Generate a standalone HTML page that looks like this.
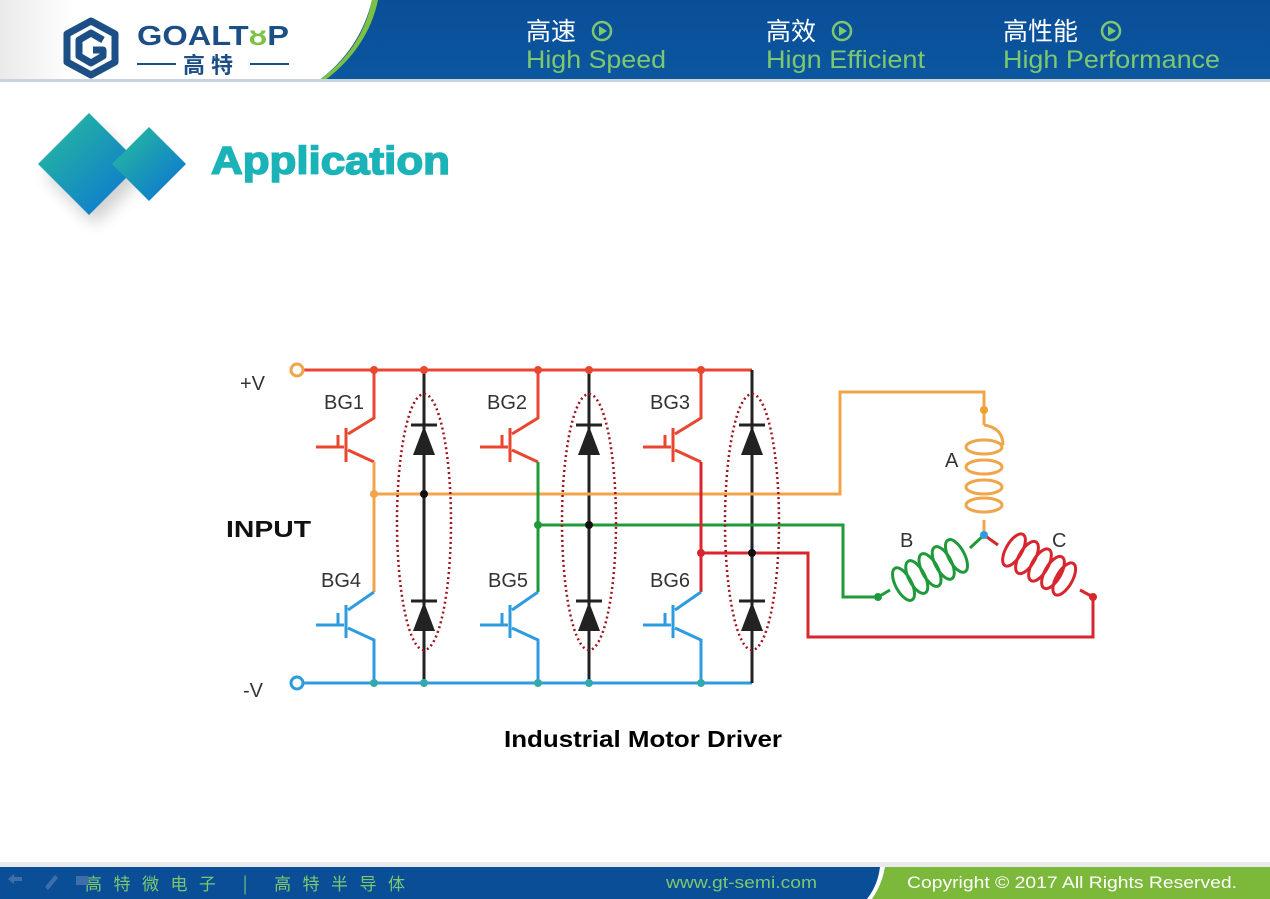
<!DOCTYPE html>
<html><head><meta charset="utf-8"><style>
html,body{margin:0;padding:0;width:1270px;height:899px;overflow:hidden;background:#fff;font-family:"Liberation Sans","Noto Sans CJK SC",sans-serif}
</style></head><body>
<svg width="1270" height="899" viewBox="0 0 1270 899" xmlns="http://www.w3.org/2000/svg" style="position:absolute;left:0;top:0">
<defs>
<linearGradient id="hb" x1="0" y1="0" x2="0" y2="1"><stop offset="0" stop-color="#0a4e98"/><stop offset="1" stop-color="#0b579f"/></linearGradient>
<linearGradient id="dg" x1="0" y1="0" x2="1" y2="1"><stop offset="0" stop-color="#27c09a"/><stop offset="1" stop-color="#0b6fd6"/></linearGradient>
<linearGradient id="lw" x1="0" y1="0" x2="1" y2="0"><stop offset="0" stop-color="#eaeaea"/><stop offset="0.2" stop-color="#fff"/></linearGradient>
<filter id="sh"><feGaussianBlur stdDeviation="8"/></filter>
</defs>
<!-- header -->
<rect x="0" y="0" width="1270" height="81" fill="url(#hb)"/>
<path d="M0 0 H372 Q360 50 318 81 H0 Z" fill="url(#lw)"/>
<path d="M372 0 Q362 50 318 81 L324 81 Q368 48 378 0 Z" fill="#7cc242"/>
<rect x="0" y="79" width="1270" height="3" fill="#c9d3de"/>
<!-- logo -->
<g transform="translate(91,48)" fill="none" stroke="#1c4f86" stroke-width="7" stroke-linejoin="round">
<polygon points="0,-27 24,-14 24,14 0,27 -24,14 -24,-14"/>
<path d="M12,-8 L0,-15 -12,-8 -12,8 0,15 12,8 12,2 2,2"/>
</g>
<text x="137" y="45" font-family="Liberation Sans,sans-serif" font-weight="bold" font-size="28" fill="#1c4f86" textLength="152" lengthAdjust="spacingAndGlyphs">GOALT<tspan fill="#7cc242">ᴕ</tspan>P</text>
<line x1="137" y1="64" x2="176" y2="64" stroke="#1c4f86" stroke-width="2"/>
<line x1="250" y1="64" x2="289" y2="64" stroke="#1c4f86" stroke-width="2"/>
<text x="183" y="73" font-family="Noto Sans CJK SC,sans-serif" font-weight="bold" font-size="22" fill="#1c4f86" letter-spacing="6">高特</text>
<g font-family="Liberation Sans,Noto Sans CJK SC,sans-serif">
<text x="526" y="40" font-size="25" fill="#fff" font-family="Noto Sans CJK SC,sans-serif">高速</text>
<text x="526" y="68" font-size="25" fill="#7dc86e" textLength="140" lengthAdjust="spacingAndGlyphs">High Speed</text>
<text x="766" y="40" font-size="25" fill="#fff" font-family="Noto Sans CJK SC,sans-serif">高效</text>
<text x="766" y="68" font-size="25" fill="#7dc86e" textLength="159" lengthAdjust="spacingAndGlyphs">Hign Efficient</text>
<text x="1003" y="40" font-size="25" fill="#fff" font-family="Noto Sans CJK SC,sans-serif">高性能</text>
<text x="1003" y="68" font-size="25" fill="#7dc86e" textLength="217" lengthAdjust="spacingAndGlyphs">High Performance</text>
</g>
<g fill="none" stroke="#7dc86e" stroke-width="2.5">
<circle cx="602" cy="31" r="9"/><circle cx="842" cy="31" r="9"/><circle cx="1111" cy="31" r="9"/></g>
<g fill="#7dc86e"><path d="M599 26 L607 31 599 36Z"/><path d="M839 26 L847 31 839 36Z"/><path d="M1108 26 L1116 31 1108 36Z"/></g>
<!-- title diamonds -->
<polygon points="95,125 145,175 95,225 45,175" fill="#000" opacity="0.18" filter="url(#sh)"/>
<polygon points="89,113 140,164 89,215 38,164" fill="url(#dg)"/>
<polygon points="149,127 186,164 149,201 112,164" fill="url(#dg)"/>
<text x="211" y="174" font-family="Liberation Sans,sans-serif" font-weight="bold" font-size="39" fill="#1bb3b8" stroke="#1bb3b8" stroke-width="1.5" textLength="239" lengthAdjust="spacingAndGlyphs">Application</text>
<!-- circuit -->
<g stroke-width="3" fill="none">
<line x1="304" y1="370" x2="752" y2="370" stroke="#e8462f"/>
<line x1="304" y1="683" x2="752" y2="683" stroke="#2e9be0"/>
<line x1="424" y1="370" x2="424" y2="683" stroke="#222"/>
<line x1="589" y1="370" x2="589" y2="683" stroke="#222"/>
<line x1="752" y1="370" x2="752" y2="683" stroke="#222"/>
<polyline points="374,494 840,494 840,392 984,392 984,425" stroke="#f0a54a"/>
<polyline points="538,525 843,525 843,597 880,597" stroke="#1f9a3a"/>
<polyline points="701,553 808,553 808,637 1093,637 1093,597" stroke="#d8262e"/>
<polyline points="984,520 984,535" stroke="#f0a54a"/>
</g>
<!-- coils -->
<g fill="none" stroke-width="3">
<g stroke="#f0a54a"><path d="M984 425 Q1003 428 1003 445"/>
<ellipse cx="984" cy="447" rx="18" ry="7"/><ellipse cx="984" cy="467" rx="18" ry="7"/><ellipse cx="984" cy="487" rx="18" ry="7"/><ellipse cx="984" cy="505" rx="18" ry="7"/></g>
<g stroke="#1f9a3a" transform="rotate(-28 930 570)"><ellipse cx="900" cy="570" rx="8" ry="18"/><ellipse cx="915" cy="570" rx="8" ry="18"/><ellipse cx="930" cy="570" rx="8" ry="18"/><ellipse cx="945" cy="570" rx="8" ry="18"/><ellipse cx="960" cy="570" rx="8" ry="18"/></g>
<polyline points="878,597 890,590" stroke="#1f9a3a"/><polyline points="970,548 984,535" stroke="#1f9a3a"/>
<g stroke="#d8262e" transform="rotate(30 1040 565)"><ellipse cx="1010" cy="565" rx="8" ry="18"/><ellipse cx="1025" cy="565" rx="8" ry="18"/><ellipse cx="1040" cy="565" rx="8" ry="18"/><ellipse cx="1055" cy="565" rx="8" ry="18"/><ellipse cx="1068" cy="565" rx="8" ry="18"/></g>
<polyline points="984,535 998,545" stroke="#d8262e"/><polyline points="1080,590 1093,597" stroke="#d8262e"/>
</g>
<!-- transistors -->
<g stroke-width="3" fill="none">
<g transform="translate(374,370)">
<polyline points="-58,77 -30,77" stroke="#e8462f"/><line x1="-28" y1="58" x2="-28" y2="92" stroke="#e8462f"/><line x1="-36" y1="65" x2="-36" y2="78" stroke="#e8462f"/>
<polyline points="-26,64 0,48 0,0" stroke="#e8462f"/><polyline points="-26,80 0,92" stroke="#e8462f"/>
<polyline points="0,92 0,222" stroke="#f0a54a"/>
<polyline points="-58,255 -30,255" stroke="#2e9be0"/><line x1="-28" y1="235" x2="-28" y2="268" stroke="#2e9be0"/><line x1="-36" y1="243" x2="-36" y2="256" stroke="#2e9be0"/>
<polyline points="-26,240 0,222" stroke="#2e9be0"/><polyline points="-26,258 0,270 0,313" stroke="#2e9be0"/>
</g>
<g transform="translate(538,370)">
<polyline points="-58,77 -30,77" stroke="#e8462f"/><line x1="-28" y1="58" x2="-28" y2="92" stroke="#e8462f"/><line x1="-36" y1="65" x2="-36" y2="78" stroke="#e8462f"/>
<polyline points="-26,64 0,48 0,0" stroke="#e8462f"/><polyline points="-26,80 0,92" stroke="#e8462f"/>
<polyline points="0,92 0,222" stroke="#1f9a3a"/>
<polyline points="-58,255 -30,255" stroke="#2e9be0"/><line x1="-28" y1="235" x2="-28" y2="268" stroke="#2e9be0"/><line x1="-36" y1="243" x2="-36" y2="256" stroke="#2e9be0"/>
<polyline points="-26,240 0,222" stroke="#2e9be0"/><polyline points="-26,258 0,270 0,313" stroke="#2e9be0"/>
</g>
<g transform="translate(701,370)">
<polyline points="-58,77 -30,77" stroke="#e8462f"/><line x1="-28" y1="58" x2="-28" y2="92" stroke="#e8462f"/><line x1="-36" y1="65" x2="-36" y2="78" stroke="#e8462f"/>
<polyline points="-26,64 0,48 0,0" stroke="#e8462f"/><polyline points="-26,80 0,92" stroke="#e8462f"/>
<polyline points="0,92 0,222" stroke="#d8262e"/>
<polyline points="-58,255 -30,255" stroke="#2e9be0"/><line x1="-28" y1="235" x2="-28" y2="268" stroke="#2e9be0"/><line x1="-36" y1="243" x2="-36" y2="256" stroke="#2e9be0"/>
<polyline points="-26,240 0,222" stroke="#2e9be0"/><polyline points="-26,258 0,270 0,313" stroke="#2e9be0"/>
</g>
</g>
<!-- diodes -->
<g fill="#222" stroke="#222" stroke-width="3">
<g transform="translate(424,0)"><line x1="-13" y1="425" x2="13" y2="425"/><polygon points="0,426 -11,455 11,455" stroke="none"/><line x1="-13" y1="601" x2="13" y2="601"/><polygon points="0,602 -11,631 11,631" stroke="none"/></g>
<g transform="translate(589,0)"><line x1="-13" y1="425" x2="13" y2="425"/><polygon points="0,426 -11,455 11,455" stroke="none"/><line x1="-13" y1="601" x2="13" y2="601"/><polygon points="0,602 -11,631 11,631" stroke="none"/></g>
<g transform="translate(752,0)"><line x1="-13" y1="425" x2="13" y2="425"/><polygon points="0,426 -11,455 11,455" stroke="none"/><line x1="-13" y1="601" x2="13" y2="601"/><polygon points="0,602 -11,631 11,631" stroke="none"/></g>
</g>
<g fill="none" stroke="#a0141e" stroke-width="2.5" stroke-dasharray="2 3">
<ellipse cx="424" cy="522" rx="27" ry="128"/><ellipse cx="589" cy="522" rx="27" ry="128"/><ellipse cx="752" cy="522" rx="27" ry="128"/></g>
<!-- dots -->
<g>
<circle cx="374" cy="370" r="4" fill="#e8462f"/><circle cx="424" cy="370" r="4" fill="#e8462f"/><circle cx="538" cy="370" r="4" fill="#e8462f"/><circle cx="589" cy="370" r="4" fill="#e8462f"/><circle cx="701" cy="370" r="4" fill="#e8462f"/>
<circle cx="374" cy="683" r="4" fill="#3aa"/><circle cx="424" cy="683" r="4" fill="#3aa"/><circle cx="538" cy="683" r="4" fill="#3aa"/><circle cx="589" cy="683" r="4" fill="#3aa"/><circle cx="701" cy="683" r="4" fill="#3aa"/>
<circle cx="374" cy="494" r="4" fill="#f0a54a"/><circle cx="424" cy="494" r="4" fill="#111"/>
<circle cx="538" cy="525" r="4" fill="#1f9a3a"/><circle cx="589" cy="525" r="4" fill="#111"/>
<circle cx="701" cy="553" r="4" fill="#d8262e"/><circle cx="752" cy="553" r="4" fill="#111"/>
<circle cx="984" cy="410" r="4" fill="#f0a030"/><circle cx="984" cy="535" r="4" fill="#2e9be0"/><circle cx="878" cy="597" r="4" fill="#1f9a3a"/><circle cx="1093" cy="597" r="4" fill="#d8262e"/>
<circle cx="297" cy="370" r="6" fill="#fff" stroke="#f0a54a" stroke-width="3"/><circle cx="297" cy="683" r="6" fill="#fff" stroke="#2e9be0" stroke-width="3"/>
</g>
<g font-family="Liberation Sans,sans-serif" font-size="20" fill="#333">
<text x="240" y="390">+V</text><text x="243" y="697">-V</text>
<text x="324" y="409">BG1</text><text x="487" y="409">BG2</text><text x="650" y="409">BG3</text>
<text x="321" y="587">BG4</text><text x="488" y="587">BG5</text><text x="650" y="587">BG6</text>
<text x="945" y="467">A</text><text x="900" y="547">B</text><text x="1052" y="547">C</text>
</g>
<text x="226" y="537" font-family="Liberation Sans,sans-serif" font-weight="bold" font-size="23" fill="#111" textLength="85" lengthAdjust="spacingAndGlyphs">INPUT</text>
<text x="504" y="747" font-family="Liberation Sans,sans-serif" font-weight="bold" font-size="23" fill="#000" textLength="278" lengthAdjust="spacingAndGlyphs">Industrial Motor Driver</text>
<!-- footer -->
<rect x="0" y="862" width="1270" height="5" fill="#e8eaec"/>
<rect x="0" y="867" width="1270" height="32" fill="#0a4e98"/>
<path d="M885 867 H1270 V899 H872 Q882 885 885 867Z" fill="#7cb83a"/>
<path d="M880 867 L885 867 Q882 885 872 899 L867 899 Q878 885 880 867Z" fill="#fff"/>
<text x="85" y="890" font-family="Noto Sans CJK SC,sans-serif" font-size="17" fill="#7dc86e" textLength="320" lengthAdjust="spacing">高特微电子 | 高特半导体</text>
<text x="666" y="888" font-family="Liberation Sans,sans-serif" font-size="17" fill="#7dc86e" textLength="151" lengthAdjust="spacingAndGlyphs">www.gt-semi.com</text>
<text x="907" y="888" font-family="Liberation Sans,sans-serif" font-size="17" fill="#fff" textLength="330" lengthAdjust="spacingAndGlyphs">Copyright © 2017 All Rights Reserved.</text>
<g fill="#3f6fa8"><path d="M8 879 L14 874 14 877 22 877 22 881 14 881 14 884Z"/><path d="M45 887 L55 875 58 878 48 890Z"/><rect x="76" y="876" width="12" height="9"/></g>
</svg>
</body></html>
